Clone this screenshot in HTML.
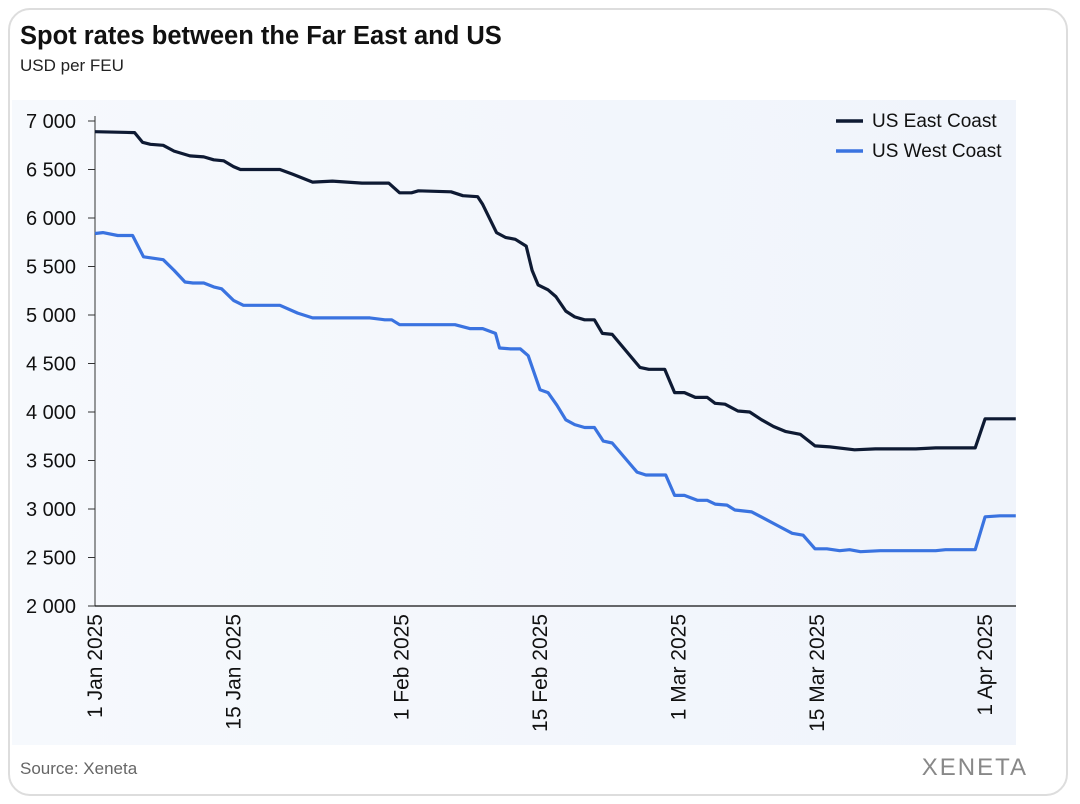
<!DOCTYPE html>
<html><head><meta charset="utf-8"><style>
body{margin:0;background:#fff;font-family:"Liberation Sans",sans-serif}
#card{position:absolute;left:8px;top:8px;width:1060px;height:788px;border:2px solid #ddd;border-radius:22px;box-sizing:border-box;background:#fff}
</style></head><body>
<div id="card"></div>
<svg id="c" width="1080" height="804" style="position:absolute;left:0;top:0" font-family="Liberation Sans, sans-serif">
<defs><linearGradient id="bg" x1="0" y1="0" x2="1" y2="0"><stop offset="0" stop-color="#f6f9fd"/><stop offset="1" stop-color="#f0f4fb"/></linearGradient></defs>
<rect x="12" y="100" width="1004" height="645" fill="url(#bg)"/>
<text x="20" y="44" font-size="25.5" font-weight="bold" fill="#111">Spot rates between the Far East and US</text>
<text x="20" y="71" font-size="17" fill="#222">USD per FEU</text>
<text x="20" y="774" font-size="17" fill="#666">Source: Xeneta</text>
<text x="1028" y="775" font-size="24" fill="#888" text-anchor="end" letter-spacing="2">XENETA</text>
<g id="g"></g>
</svg>
<script>
const yTicks=[2000,2500,3000,3500,4000,4500,5000,5500,6000,6500,7000];
const xTickDays=[0,14,31,45,59,73,90];
const xTickLabels=["1 Jan 2025","15 Jan 2025","1 Feb 2025","15 Feb 2025","1 Mar 2025","15 Mar 2025","1 Apr 2025"];
const eastDays=[0,4,4.8,5.6,6.9,8,9.6,11,12,13,14,14.7,18.7,20,22,24,27,29.7,30.8,32,32.7,36,37.2,38.7,39.2,40.6,41.5,42.5,43.6,44.2,44.8,45.8,46.6,47.6,48.5,49.5,50.5,51.3,52.3,55.1,56,57.6,58.6,59.6,60.7,61.9,62.7,63.7,65,66.2,67.4,68.6,69.8,71.3,72.8,74.3,76.8,78.9,83,85,89,90,93.1];
const eastVals=[6890,6880,6780,6760,6750,6690,6640,6630,6600,6590,6530,6500,6500,6450,6370,6380,6360,6360,6260,6260,6280,6270,6230,6220,6140,5850,5800,5780,5710,5460,5310,5260,5190,5040,4980,4950,4950,4810,4800,4460,4440,4440,4200,4200,4150,4150,4090,4080,4010,4000,3920,3850,3800,3770,3650,3640,3610,3620,3620,3630,3630,3930,3930];
const westDays=[0,0.8,2.3,3.8,4.9,5.6,6.9,8,9.1,9.9,11,12,12.8,14,15,18.7,20.5,22,27.8,29.3,30,30.8,36.4,37.9,39.2,40.5,40.9,42,43,43.8,45,45.8,46.7,47.6,48.5,49.5,50.5,51.4,52.3,54.8,55.7,56.8,57.7,58.6,59.6,60.9,61.9,62.7,63.9,64.7,66.4,67.7,69,70.5,71.6,72.8,74,75.3,76.3,77.4,79.4,85,86,89,90,91.5,93.1];
const westVals=[5840,5850,5820,5820,5600,5590,5570,5460,5340,5330,5330,5290,5270,5150,5100,5100,5020,4970,4970,4950,4950,4900,4900,4860,4860,4810,4660,4650,4650,4580,4230,4200,4070,3920,3870,3840,3840,3700,3680,3380,3350,3350,3350,3140,3140,3090,3090,3050,3040,2990,2970,2900,2830,2750,2730,2590,2590,2570,2580,2560,2570,2570,2580,2580,2920,2930,2930];
const NS="http://www.w3.org/2000/svg";
const g=document.getElementById('g');
const X0=95,PX=9.89,Y0=606,YS=485/5000;
const xs=d=>X0+d*PX, ys=v=>Y0-(v-2000)*YS;
function mk(t,a){const e=document.createElementNS(NS,t);for(const k in a)e.setAttribute(k,a[k]);g.appendChild(e);return e;}
yTicks.forEach(v=>{
 const t=mk('text',{x:76,y:ys(v)+7,'font-size':20,'text-anchor':'end',fill:'#111'});
 t.textContent=v.toLocaleString('en-US').replace(',',' ');
 
 
 const l=mk('line',{x1:88,x2:95,y1:ys(v),y2:ys(v),stroke:'#333','stroke-width':1});
 
 
});
const ya=mk('line',{x1:95,x2:95,y1:ys(7000)-5,y2:Y0,stroke:'#333','stroke-width':1});


const xa=mk('line',{x1:95,x2:1016,y1:Y0,y2:Y0,stroke:'#111','stroke-width':1.3});


xTickDays.forEach((d,i)=>{
 const x=xs(d)+7;
 const t=mk('text',{x:0,y:0,'font-size':21,'text-anchor':'end',fill:'#111',transform:`translate(${x},614) rotate(-90)`});
 t.textContent=xTickLabels[i];
 
 
});
function line(days,vals,color,name){
 const p=mk('path',{d:days.map((d,i)=>(i?'L':'M')+xs(d).toFixed(1)+','+ys(vals[i]).toFixed(1)).join(''),fill:'none',stroke:color,'stroke-width':3.2,'stroke-linejoin':'round'});
 
 
}
line(westDays,westVals,'#3a73e0','us-west-coast-line');
line(eastDays,eastVals,'#0e1a33','us-east-coast-line');
[['US East Coast','#0e1a33',121],['US West Coast','#3a73e0',151]].forEach(([n,c,y])=>{
 const l=mk('line',{x1:836,x2:863,y1:y,y2:y,stroke:c,'stroke-width':3.5});
 
 
 const t=mk('text',{x:872,y:y+6,'font-size':19,fill:'#111'});
 t.textContent=n;
 
 
});
</script>
</body></html>
